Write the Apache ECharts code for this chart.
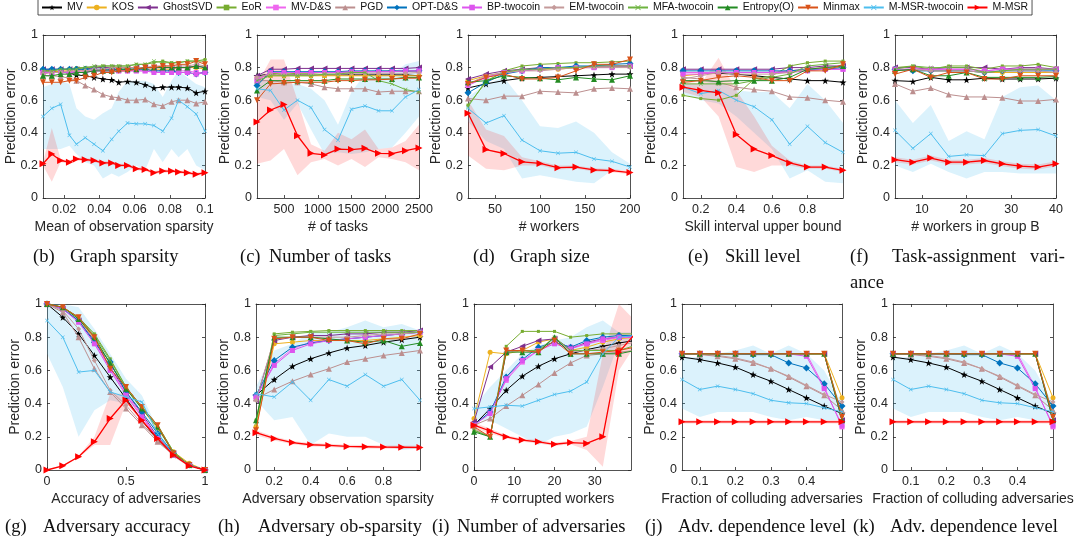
<!DOCTYPE html>
<html>
<head>
<meta charset="utf-8" />
<title></title>
<style>
  body { margin: 0; padding: 0; background: #fff; }
  #chart { width: 1078px; height: 548px; }
</style>
<script src="https://cdn.jsdelivr.net/npm/echarts@6/dist/echarts.min.js"></script>
</head>
<body>
<div id="chart"></div>
<script>
// methods, legend order
const methods = ["MV", "KOS", "GhostSVD", "EoR", "MV-D&S", "PGD", "OPT-D&S", "BP-twocoin",
  "EM-twocoin", "MFA-twocoin", "Entropy(O)", "Minmax", "M-MSR-twocoin", "M-MSR"];

// (b) graph sparsity
const xB = [0.008, 0.013, 0.018, 0.023, 0.027, 0.032, 0.037, 0.042, 0.047, 0.051, 0.056, 0.061, 0.066, 0.071, 0.076, 0.081, 0.085, 0.090, 0.095, 0.100];
const errB = [
  [0.78, 0.78, 0.775, 0.765, 0.755, 0.75, 0.74, 0.73, 0.725, 0.71, 0.715, 0.71, 0.695, 0.675, 0.68, 0.68, 0.68, 0.675, 0.645, 0.655],
  [0.77, 0.77, 0.78, 0.78, 0.78, 0.78, 0.78, 0.79, 0.79, 0.79, 0.79, 0.79, 0.79, 0.79, 0.79, 0.79, 0.8, 0.8, 0.8, 0.79],
  [0.79, 0.79, 0.79, 0.79, 0.79, 0.79, 0.8, 0.8, 0.8, 0.8, 0.8, 0.8, 0.8, 0.8, 0.8, 0.8, 0.8, 0.8, 0.81, 0.8],
  [0.78, 0.78, 0.79, 0.79, 0.8, 0.8, 0.8, 0.81, 0.81, 0.81, 0.81, 0.82, 0.82, 0.83, 0.84, 0.83, 0.83, 0.84, 0.84, 0.85],
  [0.77, 0.77, 0.77, 0.77, 0.78, 0.78, 0.78, 0.78, 0.78, 0.78, 0.78, 0.78, 0.78, 0.78, 0.78, 0.78, 0.78, 0.78, 0.77, 0.77],
  [0.75, 0.75, 0.745, 0.735, 0.72, 0.69, 0.665, 0.635, 0.62, 0.615, 0.6, 0.6, 0.605, 0.575, 0.565, 0.59, 0.6, 0.6, 0.58, 0.59],
  [0.79, 0.79, 0.79, 0.79, 0.79, 0.79, 0.79, 0.79, 0.79, 0.79, 0.79, 0.79, 0.79, 0.78, 0.78, 0.78, 0.77, 0.77, 0.76, 0.77],
  [0.77, 0.77, 0.77, 0.77, 0.77, 0.77, 0.78, 0.78, 0.78, 0.78, 0.78, 0.78, 0.78, 0.77, 0.77, 0.77, 0.77, 0.77, 0.76, 0.77],
  [0.76, 0.77, 0.77, 0.78, 0.78, 0.78, 0.79, 0.79, 0.8, 0.8, 0.8, 0.8, 0.8, 0.81, 0.81, 0.81, 0.81, 0.81, 0.82, 0.81],
  [0.78, 0.78, 0.79, 0.79, 0.79, 0.8, 0.81, 0.81, 0.81, 0.81, 0.81, 0.82, 0.82, 0.84, 0.83, 0.83, 0.83, 0.84, 0.84, 0.84],
  [0.75, 0.75, 0.76, 0.76, 0.77, 0.77, 0.78, 0.78, 0.78, 0.79, 0.79, 0.79, 0.8, 0.8, 0.8, 0.8, 0.8, 0.8, 0.81, 0.8],
  [0.71, 0.71, 0.71, 0.72, 0.72, 0.74, 0.75, 0.77, 0.77, 0.78, 0.78, 0.79, 0.8, 0.8, 0.81, 0.81, 0.82, 0.82, 0.84, 0.82],
  [0.5, 0.55, 0.575, 0.385, 0.33, 0.37, 0.33, 0.29, 0.36, 0.41, 0.46, 0.455, 0.455, 0.445, 0.41, 0.49, 0.6, 0.56, 0.515, 0.41],
  [0.21, 0.27, 0.23, 0.22, 0.24, 0.235, 0.23, 0.215, 0.215, 0.2, 0.2, 0.18, 0.175, 0.155, 0.165, 0.165, 0.16, 0.155, 0.145, 0.155]
];
// shaded spread: M-MSR-twocoin low/high, M-MSR low/high
const bandsB = [
  [0.3, 0.3, 0.3, 0.32, 0.27, 0.22, 0.2, 0.12, 0.15, 0.13, 0.16, 0.2, 0.17, 0.3, 0.22, 0.3, 0.25, 0.3, 0.2, 0.17],
  [0.68, 0.7, 0.72, 0.7, 0.55, 0.5, 0.48, 0.52, 0.55, 0.65, 0.72, 0.72, 0.72, 0.7, 0.62, 0.72, 0.78, 0.74, 0.7, 0.68],
  [0.2, 0.1, 0.22, 0.21, 0.23, 0.225, 0.22, 0.205, 0.205, 0.19, 0.19, 0.17, 0.165, 0.145, 0.155, 0.155, 0.15, 0.145, 0.135, 0.145],
  [0.22, 0.43, 0.24, 0.23, 0.25, 0.245, 0.24, 0.225, 0.225, 0.21, 0.21, 0.19, 0.185, 0.165, 0.175, 0.175, 0.17, 0.165, 0.155, 0.165]
];

// (c) number of tasks
const xC = [100, 300, 500, 700, 900, 1100, 1300, 1500, 1700, 1900, 2100, 2300, 2500];
const errC = [
  [0.75, 0.76, 0.755, 0.755, 0.755, 0.755, 0.755, 0.755, 0.755, 0.755, 0.755, 0.755, 0.75],
  [0.74, 0.75, 0.75, 0.75, 0.75, 0.75, 0.75, 0.75, 0.75, 0.75, 0.75, 0.75, 0.75],
  [0.75, 0.79, 0.79, 0.795, 0.795, 0.795, 0.795, 0.795, 0.795, 0.795, 0.795, 0.795, 0.8],
  [0.7, 0.765, 0.76, 0.765, 0.765, 0.77, 0.77, 0.775, 0.775, 0.775, 0.78, 0.775, 0.78],
  [0.73, 0.77, 0.77, 0.77, 0.77, 0.77, 0.77, 0.775, 0.775, 0.775, 0.775, 0.78, 0.78],
  [0.72, 0.72, 0.71, 0.71, 0.7, 0.68, 0.67, 0.67, 0.67, 0.65, 0.655, 0.655, 0.655],
  [0.69, 0.775, 0.775, 0.775, 0.775, 0.775, 0.775, 0.78, 0.78, 0.78, 0.78, 0.78, 0.78],
  [0.72, 0.77, 0.77, 0.77, 0.77, 0.77, 0.77, 0.775, 0.775, 0.775, 0.775, 0.78, 0.78],
  [0.74, 0.76, 0.755, 0.755, 0.755, 0.76, 0.76, 0.765, 0.765, 0.765, 0.765, 0.765, 0.77],
  [0.72, 0.75, 0.75, 0.75, 0.75, 0.76, 0.76, 0.77, 0.77, 0.72, 0.7, 0.665, 0.65],
  [0.66, 0.72, 0.72, 0.72, 0.72, 0.72, 0.73, 0.73, 0.73, 0.73, 0.73, 0.74, 0.74],
  [0.6, 0.7, 0.705, 0.71, 0.71, 0.71, 0.72, 0.72, 0.725, 0.725, 0.73, 0.735, 0.735],
  [0.67, 0.66, 0.54, 0.6, 0.555, 0.42, 0.355, 0.545, 0.565, 0.535, 0.535, 0.62, 0.665],
  [0.467, 0.54, 0.573, 0.382, 0.274, 0.264, 0.3, 0.297, 0.305, 0.274, 0.272, 0.29, 0.307]
];
const bandsC = [
  [0.62, 0.6, 0.48, 0.58, 0.42, 0.27, 0.28, 0.27, 0.28, 0.3, 0.31, 0.4, 0.5],
  [0.72, 0.72, 0.7, 0.7, 0.67, 0.6, 0.45, 0.65, 0.76, 0.8, 0.76, 0.82, 0.84],
  [0.21, 0.23, 0.3, 0.14, 0.22, 0.24, 0.2, 0.24, 0.19, 0.25, 0.24, 0.22, 0.17],
  [0.7, 0.85, 0.85, 0.6, 0.33, 0.29, 0.4, 0.36, 0.42, 0.3, 0.31, 0.35, 0.45]
];

// (d) graph size
const xD = [20, 40, 60, 80, 100, 120, 140, 160, 180, 200];
const errD = [
  [0.675, 0.7, 0.72, 0.735, 0.74, 0.745, 0.75, 0.755, 0.76, 0.76],
  [0.72, 0.75, 0.77, 0.78, 0.79, 0.79, 0.8, 0.8, 0.81, 0.81],
  [0.73, 0.76, 0.78, 0.79, 0.8, 0.8, 0.8, 0.81, 0.81, 0.81],
  [0.57, 0.71, 0.78, 0.81, 0.82, 0.825, 0.83, 0.83, 0.835, 0.84],
  [0.69, 0.74, 0.77, 0.78, 0.79, 0.8, 0.8, 0.8, 0.81, 0.81],
  [0.61, 0.6, 0.625, 0.625, 0.655, 0.65, 0.645, 0.67, 0.675, 0.67],
  [0.645, 0.71, 0.76, 0.78, 0.8, 0.8, 0.81, 0.81, 0.82, 0.825],
  [0.7, 0.74, 0.77, 0.78, 0.79, 0.8, 0.8, 0.8, 0.8, 0.81],
  [0.7, 0.75, 0.77, 0.78, 0.78, 0.79, 0.8, 0.8, 0.8, 0.8],
  [0.56, 0.72, 0.77, 0.79, 0.79, 0.8, 0.8, 0.81, 0.81, 0.81],
  [0.71, 0.72, 0.75, 0.74, 0.735, 0.725, 0.74, 0.73, 0.725, 0.75],
  [0.7, 0.74, 0.76, 0.73, 0.73, 0.74, 0.78, 0.82, 0.82, 0.85],
  [0.55, 0.46, 0.505, 0.355, 0.29, 0.275, 0.28, 0.24, 0.225, 0.19],
  [0.52, 0.297, 0.273, 0.222, 0.212, 0.186, 0.19, 0.172, 0.168, 0.156]
];
const bandsD = [
  [0.47, 0.35, 0.3, 0.12, 0.14, 0.12, 0.1, 0.09, 0.17, 0.17],
  [0.62, 0.7, 0.74, 0.6, 0.44, 0.43, 0.47, 0.4, 0.28, 0.21],
  [0.26, 0.18, 0.17, 0.2, 0.2, 0.175, 0.18, 0.162, 0.158, 0.146],
  [0.6, 0.42, 0.38, 0.25, 0.225, 0.2, 0.2, 0.182, 0.178, 0.166]
];

// (e) skill level
const xE = [0.1, 0.2, 0.3, 0.4, 0.5, 0.6, 0.7, 0.8, 0.9, 1.0];
const errE = [
  [0.77, 0.77, 0.765, 0.76, 0.75, 0.74, 0.73, 0.72, 0.72, 0.71],
  [0.75, 0.76, 0.77, 0.77, 0.77, 0.77, 0.78, 0.79, 0.8, 0.8],
  [0.79, 0.79, 0.79, 0.79, 0.79, 0.79, 0.8, 0.8, 0.81, 0.81],
  [0.63, 0.61, 0.6, 0.63, 0.73, 0.75, 0.81, 0.83, 0.84, 0.84],
  [0.77, 0.77, 0.77, 0.77, 0.77, 0.77, 0.78, 0.79, 0.79, 0.79],
  [0.74, 0.73, 0.71, 0.68, 0.665, 0.655, 0.62, 0.615, 0.6, 0.59],
  [0.78, 0.78, 0.78, 0.78, 0.78, 0.78, 0.78, 0.79, 0.79, 0.8],
  [0.76, 0.76, 0.77, 0.77, 0.77, 0.77, 0.77, 0.78, 0.79, 0.79],
  [0.73, 0.75, 0.77, 0.76, 0.76, 0.76, 0.77, 0.79, 0.8, 0.81],
  [0.7, 0.7, 0.7, 0.7, 0.72, 0.74, 0.76, 0.81, 0.82, 0.83],
  [0.72, 0.72, 0.715, 0.72, 0.72, 0.72, 0.74, 0.79, 0.8, 0.81],
  [0.71, 0.72, 0.74, 0.75, 0.74, 0.72, 0.72, 0.78, 0.78, 0.82],
  [0.68, 0.64, 0.66, 0.6, 0.56, 0.48, 0.33, 0.44, 0.34, 0.28],
  [0.68, 0.66, 0.645, 0.39, 0.3, 0.26, 0.215, 0.19, 0.19, 0.17]
];
const bandsE = [
  [0.64, 0.6, 0.58, 0.5, 0.4, 0.3, 0.12, 0.17, 0.1, 0.09],
  [0.7, 0.7, 0.72, 0.66, 0.65, 0.65, 0.55, 0.7, 0.6, 0.46],
  [0.65, 0.62, 0.5, 0.19, 0.16, 0.2, 0.2, 0.18, 0.18, 0.16],
  [0.72, 0.7, 0.86, 0.66, 0.5, 0.32, 0.23, 0.2, 0.2, 0.18]
];

// (f) task-assignment variance
const xF = [4, 8, 12, 16, 20, 24, 28, 32, 36, 40];
const errF = [
  [0.72, 0.715, 0.74, 0.725, 0.725, 0.735, 0.73, 0.73, 0.73, 0.735],
  [0.78, 0.79, 0.78, 0.78, 0.78, 0.77, 0.77, 0.77, 0.77, 0.77],
  [0.8, 0.8, 0.79, 0.8, 0.8, 0.8, 0.79, 0.8, 0.8, 0.79],
  [0.8, 0.81, 0.79, 0.81, 0.81, 0.79, 0.81, 0.81, 0.82, 0.8],
  [0.79, 0.79, 0.79, 0.79, 0.79, 0.78, 0.79, 0.79, 0.79, 0.79],
  [0.7, 0.655, 0.675, 0.635, 0.62, 0.62, 0.615, 0.595, 0.595, 0.605],
  [0.79, 0.78, 0.78, 0.78, 0.78, 0.77, 0.78, 0.78, 0.78, 0.78],
  [0.79, 0.79, 0.79, 0.79, 0.79, 0.78, 0.79, 0.79, 0.79, 0.79],
  [0.78, 0.79, 0.78, 0.78, 0.78, 0.77, 0.78, 0.78, 0.78, 0.77],
  [0.79, 0.81, 0.8, 0.8, 0.8, 0.77, 0.78, 0.79, 0.79, 0.79],
  [0.78, 0.79, 0.75, 0.75, 0.77, 0.74, 0.74, 0.74, 0.74, 0.745],
  [0.76, 0.79, 0.74, 0.77, 0.77, 0.73, 0.73, 0.75, 0.75, 0.75],
  [0.415, 0.305, 0.395, 0.255, 0.265, 0.26, 0.395, 0.415, 0.42, 0.38],
  [0.235, 0.22, 0.245, 0.22, 0.22, 0.23, 0.21, 0.195, 0.19, 0.21]
];
const bandsF = [
  [0.2, 0.16, 0.21, 0.16, 0.12, 0.16, 0.16, 0.15, 0.15, 0.15],
  [0.6, 0.46, 0.57, 0.35, 0.41, 0.36, 0.62, 0.68, 0.69, 0.6],
  [0.22, 0.205, 0.23, 0.205, 0.205, 0.215, 0.195, 0.18, 0.175, 0.195],
  [0.25, 0.235, 0.26, 0.235, 0.235, 0.245, 0.225, 0.21, 0.205, 0.225]
];

// (g) adversary accuracy
const xG = [0, 0.1, 0.2, 0.3, 0.4, 0.5, 0.6, 0.7, 0.8, 0.9, 1];
const errG = [
  [1, 0.92, 0.82, 0.69, 0.56, 0.43, 0.3, 0.18, 0.09, 0.03, 0],
  [1, 0.98, 0.91, 0.79, 0.64, 0.49, 0.37, 0.25, 0.11, 0.04, 0],
  [1, 0.97, 0.9, 0.78, 0.62, 0.47, 0.34, 0.2, 0.1, 0.03, 0],
  [1, 0.98, 0.92, 0.82, 0.67, 0.5, 0.38, 0.27, 0.11, 0.03, 0],
  [1, 0.97, 0.9, 0.77, 0.61, 0.46, 0.33, 0.19, 0.09, 0.03, 0],
  [1, 0.95, 0.8, 0.61, 0.47, 0.37, 0.27, 0.17, 0.09, 0.03, 0],
  [1, 0.97, 0.9, 0.77, 0.65, 0.47, 0.35, 0.22, 0.1, 0.03, 0],
  [1, 0.97, 0.89, 0.76, 0.6, 0.45, 0.32, 0.19, 0.09, 0.03, 0],
  [1, 0.96, 0.85, 0.66, 0.48, 0.39, 0.28, 0.18, 0.09, 0.03, 0],
  [1, 0.98, 0.92, 0.81, 0.66, 0.5, 0.38, 0.27, 0.11, 0.03, 0],
  [1, 0.98, 0.91, 0.8, 0.64, 0.49, 0.37, 0.26, 0.1, 0.03, 0],
  [1, 0.98, 0.92, 0.8, 0.61, 0.5, 0.38, 0.27, 0.1, 0.03, 0],
  [0.9, 0.8, 0.59, 0.6, 0.47, 0.44, 0.41, 0.22, 0.09, 0.03, 0],
  [0, 0.025, 0.08, 0.17, 0.31, 0.42, 0.3, 0.19, 0.09, 0.025, 0]
];
const bandsG = [
  [0.7, 0.5, 0.2, 0.36, 0.42, 0.4, 0.38, 0.2, 0.08, 0.02, 0],
  [1, 1, 0.98, 0.85, 0.7, 0.55, 0.45, 0.25, 0.1, 0.035, 0],
  [0, 0.02, 0.075, 0.15, 0.15, 0.4, 0.29, 0.18, 0.08, 0.02, 0],
  [0.005, 0.03, 0.085, 0.2, 0.46, 0.46, 0.31, 0.2, 0.1, 0.03, 0.005]
];

// (h) adversary observation sparsity
const xH = [0.1, 0.2, 0.3, 0.4, 0.5, 0.6, 0.7, 0.8, 0.9, 1.0];
const errH = [
  [0.45, 0.545, 0.625, 0.67, 0.705, 0.735, 0.75, 0.77, 0.785, 0.8],
  [0.26, 0.76, 0.77, 0.78, 0.78, 0.78, 0.78, 0.79, 0.8, 0.81],
  [0.42, 0.78, 0.8, 0.81, 0.81, 0.82, 0.82, 0.83, 0.83, 0.84],
  [0.3, 0.82, 0.83, 0.835, 0.84, 0.84, 0.84, 0.84, 0.84, 0.84],
  [0.44, 0.64, 0.73, 0.77, 0.78, 0.79, 0.8, 0.81, 0.82, 0.83],
  [0.43, 0.485, 0.535, 0.575, 0.61, 0.65, 0.67, 0.69, 0.705, 0.72],
  [0.45, 0.66, 0.74, 0.765, 0.78, 0.79, 0.8, 0.81, 0.82, 0.83],
  [0.44, 0.63, 0.72, 0.76, 0.78, 0.79, 0.8, 0.81, 0.82, 0.83],
  [0.42, 0.79, 0.8, 0.8, 0.8, 0.8, 0.81, 0.82, 0.82, 0.83],
  [0.28, 0.81, 0.82, 0.83, 0.83, 0.83, 0.83, 0.83, 0.83, 0.83],
  [0.3, 0.8, 0.8, 0.8, 0.79, 0.78, 0.77, 0.78, 0.745, 0.765],
  [0.24, 0.79, 0.8, 0.8, 0.78, 0.78, 0.76, 0.79, 0.79, 0.82],
  [0.46, 0.44, 0.53, 0.42, 0.545, 0.505, 0.575, 0.505, 0.545, 0.42],
  [0.225, 0.19, 0.165, 0.152, 0.148, 0.142, 0.14, 0.138, 0.137, 0.136]
];
const bandsH = [
  [0.42, 0.3, 0.32, 0.15, 0.22, 0.2, 0.2, 0.15, 0.12, 0.13],
  [0.5, 0.72, 0.76, 0.83, 0.83, 0.86, 0.9, 0.86, 0.88, 0.84],
  [0.21, 0.178, 0.155, 0.142, 0.138, 0.132, 0.13, 0.128, 0.127, 0.126],
  [0.24, 0.202, 0.175, 0.162, 0.158, 0.152, 0.15, 0.148, 0.147, 0.146]
];

// (i) number of adversaries
const xI = [0, 4, 8, 12, 16, 20, 24, 28, 32, 36, 40];
const errI = [
  [0.27, 0.37, 0.48, 0.565, 0.625, 0.67, 0.7, 0.725, 0.745, 0.765, 0.78],
  [0.31, 0.71, 0.7, 0.72, 0.77, 0.79, 0.72, 0.74, 0.77, 0.79, 0.8],
  [0.29, 0.62, 0.71, 0.745, 0.78, 0.79, 0.73, 0.77, 0.79, 0.8, 0.81],
  [0.24, 0.2, 0.745, 0.835, 0.835, 0.835, 0.8, 0.81, 0.82, 0.82, 0.82],
  [0.27, 0.35, 0.54, 0.65, 0.72, 0.77, 0.74, 0.76, 0.78, 0.8, 0.8],
  [0.27, 0.31, 0.385, 0.45, 0.515, 0.585, 0.645, 0.69, 0.7, 0.71, 0.72],
  [0.27, 0.35, 0.56, 0.665, 0.74, 0.77, 0.74, 0.78, 0.8, 0.81, 0.81],
  [0.27, 0.34, 0.55, 0.66, 0.72, 0.76, 0.73, 0.76, 0.79, 0.8, 0.8],
  [0.25, 0.2, 0.71, 0.72, 0.72, 0.8, 0.71, 0.72, 0.73, 0.75, 0.77],
  [0.24, 0.2, 0.72, 0.72, 0.72, 0.8, 0.72, 0.72, 0.72, 0.72, 0.75],
  [0.23, 0.2, 0.71, 0.71, 0.71, 0.8, 0.7, 0.7, 0.7, 0.7, 0.72],
  [0.26, 0.2, 0.72, 0.72, 0.71, 0.78, 0.7, 0.7, 0.71, 0.72, 0.74],
  [0.37, 0.38, 0.39, 0.385, 0.42, 0.455, 0.475, 0.53, 0.7, 0.8, 0.81],
  [0.27, 0.235, 0.2, 0.18, 0.17, 0.155, 0.165, 0.16, 0.2, 0.71, 0.82]
];
const bandsI = [
  [0.3, 0.3, 0.25, 0.2, 0.15, 0.2, 0.22, 0.26, 0.5, 0.77, 0.78],
  [0.38, 0.5, 0.6, 0.7, 0.75, 0.78, 0.8, 0.86, 0.9, 0.83, 0.83],
  [0.255, 0.22, 0.19, 0.17, 0.16, 0.145, 0.155, 0.12, 0.02, 0.6, 0.75],
  [0.285, 0.25, 0.21, 0.19, 0.18, 0.165, 0.175, 0.2, 0.7, 1.0, 0.9]
];

// (j) and (k) adversary dependence level
const xJ = [0.05, 0.1, 0.15, 0.2, 0.25, 0.3, 0.35, 0.4, 0.45, 0.5];
const errJ = [
  [0.68, 0.665, 0.645, 0.62, 0.575, 0.535, 0.485, 0.435, 0.385, 0.34],
  [0.7, 0.7, 0.7, 0.7, 0.7, 0.7, 0.7, 0.7, 0.7, 0.435],
  [0.7, 0.7, 0.7, 0.7, 0.7, 0.7, 0.7, 0.7, 0.7, 0.3],
  [0.7, 0.7, 0.7, 0.7, 0.7, 0.7, 0.7, 0.7, 0.7, 0.33],
  [0.7, 0.7, 0.7, 0.7, 0.7, 0.7, 0.7, 0.7, 0.5, 0.26],
  [0.7, 0.695, 0.685, 0.67, 0.645, 0.61, 0.56, 0.505, 0.45, 0.36],
  [0.7, 0.7, 0.7, 0.7, 0.695, 0.695, 0.645, 0.615, 0.52, 0.385],
  [0.7, 0.7, 0.7, 0.7, 0.7, 0.7, 0.7, 0.685, 0.49, 0.27],
  [0.7, 0.7, 0.69, 0.675, 0.65, 0.61, 0.565, 0.51, 0.455, 0.41],
  [0.7, 0.7, 0.7, 0.7, 0.7, 0.7, 0.7, 0.7, 0.7, 0.31],
  [0.7, 0.7, 0.7, 0.7, 0.7, 0.7, 0.7, 0.7, 0.7, 0.3],
  [0.7, 0.7, 0.7, 0.7, 0.7, 0.7, 0.7, 0.7, 0.7, 0.32],
  [0.545, 0.485, 0.505, 0.485, 0.46, 0.42, 0.405, 0.4, 0.375, 0.35],
  [0.29, 0.29, 0.29, 0.29, 0.29, 0.29, 0.29, 0.29, 0.29, 0.29]
];
const bandsJ = [
  [0.37, 0.32, 0.35, 0.35, 0.35, 0.32, 0.3, 0.32, 0.3, 0.3],
  [0.68, 0.68, 0.7, 0.72, 0.75, 0.7, 0.75, 0.7, 0.6, 0.4],
  [0.28, 0.28, 0.28, 0.28, 0.28, 0.28, 0.28, 0.28, 0.28, 0.28],
  [0.3, 0.3, 0.3, 0.3, 0.3, 0.3, 0.3, 0.3, 0.3, 0.3]
];

// marker shapes
const STAR = 'path://M50,0 L61.8,35.1 98.1,35.1 68.8,56.7 79.4,91 50,70 20.6,91 31.2,56.7 1.9,35.1 38.2,35.1Z';
const TRI_L = 'path://M0,50 L100,0 L100,100Z';
const TRI_R = 'path://M100,50 L0,0 L0,100Z';
const TRI_D = 'path://M0,0 L100,0 L50,100Z';
const XMARK = 'path://M10,0 L50,40 90,0 100,10 60,50 100,90 90,100 50,60 10,100 0,90 40,50 0,10Z';

const looks = [
  { color: '#000000', symbol: STAR, size: 7 },
  { color: '#EDB120', symbol: 'circle', size: 5 },
  { color: '#7E2F8E', symbol: TRI_L, size: 6 },
  { color: '#77AC30', symbol: 'rect', size: 3 },
  { color: '#EE66EE', symbol: 'rect', size: 5 },
  { color: '#BC8F8F', symbol: 'triangle', size: 6 },
  { color: '#0072BD', symbol: 'diamond', size: 7 },
  { color: '#DD55EE', symbol: 'rect', size: 5 },
  { color: '#C49A9A', symbol: 'diamond', size: 5 },
  { color: '#6DB33F', symbol: XMARK, size: 4 },
  { color: '#228B22', symbol: 'triangle', size: 6 },
  { color: '#D95319', symbol: TRI_D, size: 6 },
  { color: '#4DBEEE', symbol: XMARK, size: 4 },
  { color: '#FF0000', symbol: TRI_R, size: 7 }
];

const rowTop = 35, rowTop2 = 304;
const panels = [
  { x: xB, err: errB, bands: bandsB, left: 43, top: rowTop, w: 162, h: 163, min: 0.008, max: 0.1, ticks: [0.02, 0.04, 0.06, 0.08, 0.1], name: 'Mean of observation sparsity' },
  { x: xC, err: errC, bands: bandsC, left: 257, top: rowTop, w: 162, h: 163, min: 100, max: 2500, ticks: [500, 1000, 1500, 2000, 2500], name: '# of tasks' },
  { x: xD, err: errD, bands: bandsD, left: 468, top: rowTop, w: 162, h: 163, min: 20, max: 200, ticks: [50, 100, 150, 200], name: '# workers' },
  { x: xE, err: errE, bands: bandsE, left: 683, top: rowTop, w: 160, h: 163, min: 0.1, max: 1, ticks: [0.2, 0.4, 0.6, 0.8], name: 'Skill interval upper bound' },
  { x: xF, err: errF, bands: bandsF, left: 895, top: rowTop, w: 161, h: 163, min: 4, max: 40, ticks: [10, 20, 30, 40], name: '# workers in group B' },
  { x: xG, err: errG, bands: bandsG, left: 47, top: rowTop2, w: 158, h: 166, min: 0, max: 1, ticks: [0, 0.5, 1], name: 'Accuracy of adversaries' },
  { x: xH, err: errH, bands: bandsH, left: 256, top: rowTop2, w: 164, h: 166, min: 0.1, max: 1, ticks: [0.2, 0.4, 0.6, 0.8], name: 'Adversary observation sparsity' },
  { x: xI, err: errI, bands: bandsI, left: 474, top: rowTop2, w: 157, h: 166, min: 0, max: 39, ticks: [0, 10, 20, 30], name: '# corrupted workers' },
  { x: xJ, err: errJ, bands: bandsJ, left: 682, top: rowTop2, w: 160, h: 166, min: 0.05, max: 0.5, ticks: [0.1, 0.2, 0.3, 0.4], name: 'Fraction of colluding adversaries' },
  { x: xJ, err: errJ, bands: bandsJ, left: 893, top: rowTop2, w: 160, h: 166, min: 0.05, max: 0.5, ticks: [0.1, 0.2, 0.3, 0.4], name: 'Fraction of colluding adversaries' }
];

// sub-figure captions: [label, x, text, x, y]
const captions = [
  ['(b)', 33, 'Graph sparsity', 70, 258],
  ['(c)', 240, 'Number of tasks', 269, 258],
  ['(d)', 473, 'Graph size', 510, 258],
  ['(e)', 688, 'Skill level', 725, 258],
  ['(f)', 850, 'Task-assignment', 892, 258],
  ['', 0, 'vari-', 1030, 258],
  ['', 0, 'ance', 850, 284],
  ['(g)', 5, 'Adversary accuracy', 43, 528],
  ['(h)', 218, 'Adversary ob-sparsity', 258, 528],
  ['(i)', 432, 'Number of adversaries', 457, 528],
  ['(j)', 645, 'Adv. dependence level', 678, 528],
  ['(k)', 853, 'Adv. dependence level', 890, 528]
];

const FONT = 'Liberation Sans';
const INK = '#262626';
const bandColors = ['rgba(77,190,238,0.2)', 'rgba(255,0,0,0.15)'];

const grid = [], xAxis = [], yAxis = [], series = [];
panels.forEach((p, i) => {
  grid.push({ left: p.left, top: p.top, width: p.w, height: p.h });
  const tick = { inside: true, length: 3, lineStyle: { color: INK, width: 0.8 } };
  const line = { show: true, onZero: false, lineStyle: { color: INK, width: 0.8 } };
  xAxis.push({
    gridIndex: i, type: 'value', min: p.min, max: p.max, position: 'bottom',
    axisLine: line, splitLine: { show: false },
    axisTick: Object.assign({ customValues: p.ticks }, tick),
    axisLabel: { customValues: p.ticks, formatter: v => String(v), color: INK, fontSize: 12.5, fontFamily: FONT, margin: 5 },
    name: p.name, nameLocation: 'middle', nameGap: 22, nameMoveOverlap: false,
    nameTextStyle: { color: INK, fontSize: 14, fontFamily: FONT }
  });
  xAxis.push({
    gridIndex: i, type: 'value', min: p.min, max: p.max, position: 'top',
    axisLine: line, splitLine: { show: false },
    axisTick: Object.assign({ customValues: p.ticks }, tick),
    axisLabel: { show: false }
  });
  yAxis.push({
    gridIndex: i, type: 'value', min: 0, max: 1, interval: 0.2, position: 'left',
    axisLine: line, splitLine: { show: false }, axisTick: tick,
    axisLabel: { color: INK, fontSize: 12.5, fontFamily: FONT, margin: 5 },
    name: 'Prediction error', nameLocation: 'middle', nameGap: 25, nameMoveOverlap: false,
    nameTextStyle: { color: INK, fontSize: 14, fontFamily: FONT }
  });
  yAxis.push({
    gridIndex: i, type: 'value', min: 0, max: 1, interval: 0.2, position: 'right',
    axisLine: line, splitLine: { show: false }, axisTick: tick,
    axisLabel: { show: false }
  });

  // shaded spreads: one polygon per band, low edge forward, high edge back
  for (let k = 0; k < 2; k++) {
    const lo = p.bands[2 * k], hi = p.bands[2 * k + 1];
    series.push({
      type: 'custom', name: 'spread', xAxisIndex: 2 * i, yAxisIndex: 2 * i,
      silent: true, z: 1, clip: true,
      data: [[p.x[0], lo[0]]],
      renderItem: (params, api) => {
        const pts = [];
        p.x.forEach((v, j) => pts.push(api.coord([v, lo[j]])));
        for (let j = p.x.length - 1; j >= 0; j--) pts.push(api.coord([p.x[j], hi[j]]));
        return { type: 'polygon', shape: { points: pts }, style: { fill: bandColors[k] } };
      }
    });
  }

  methods.forEach((m, s) => {
    const lk = looks[s];
    series.push({
      name: m, type: 'line', xAxisIndex: 2 * i, yAxisIndex: 2 * i,
      data: p.x.map((v, j) => [v, p.err[s][j]]),
      symbol: lk.symbol, symbolSize: lk.size, z: 2 + s,
      itemStyle: { color: lk.color },
      lineStyle: { color: lk.color, width: s === 13 ? 1.3 : 1 }
    });
  });
});

const graphic = [];
captions.forEach(c => {
  if (c[0]) graphic.push({ type: 'text', left: c[1], top: c[4] - 10,
    style: { text: c[0], fill: '#111', font: '18.5px "Liberation Serif"' } });
  graphic.push({ type: 'text', left: c[3], top: c[4] - 10,
    style: { text: c[2], fill: '#111', font: '18.5px "Liberation Serif"' } });
});

const chart = echarts.init(document.getElementById('chart'), null, { renderer: 'canvas' });
chart.setOption({
  animation: false,
  backgroundColor: '#fff',
  legend: {
    data: methods, left: 38, top: -1, itemWidth: 20, itemHeight: 7, itemGap: 3,
    padding: [3, 4, 2, 3], borderColor: INK, borderWidth: 0.8,
    textStyle: { fontSize: 10.5, color: '#111', fontFamily: FONT }
  },
  grid: grid,
  xAxis: xAxis,
  yAxis: yAxis,
  series: series,
  graphic: graphic
});
</script>
</body>
</html>
